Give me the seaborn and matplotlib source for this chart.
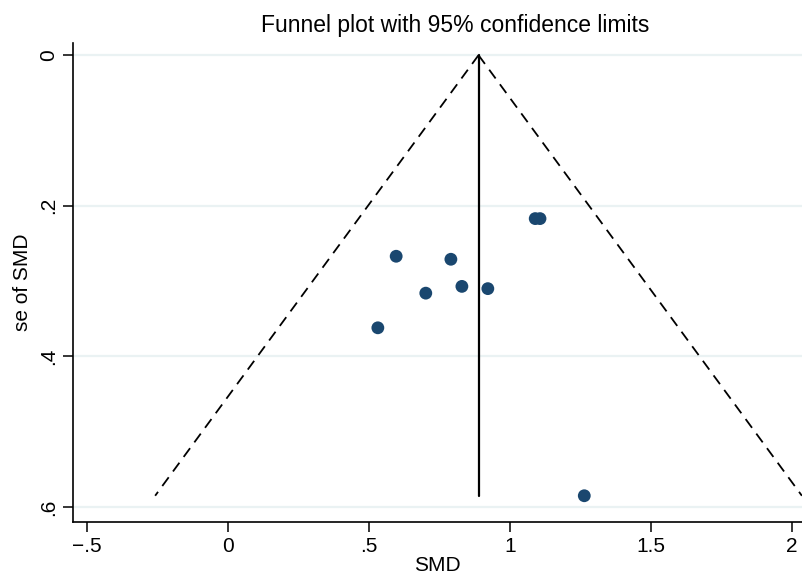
import matplotlib
matplotlib.use("Agg")
import matplotlib.pyplot as plt
import seaborn as sns
import numpy as np
import pandas as pd

# study estimates
smd = [0.596, 0.790, 0.701, 0.829, 0.921, 0.531, 1.089, 1.106, 1.263]
se_smd = [0.267, 0.271, 0.316, 0.307, 0.310, 0.362, 0.217, 0.217, 0.585]
pooled_smd = 0.888
x_ticks = [-0.5, 0, 0.5, 1, 1.5, 2]
x_tick_labels = ["\u2212.5", "0", ".5", "1", "1.5", "2"]
y_ticks = [0, 0.2, 0.4, 0.6]
y_tick_labels = ["0", ".2", ".4", ".6"]

df = pd.DataFrame({"SMD": smd, "se": se_smd})

sns.set_theme(style="white")
plt.rcParams['font.family'] = ['Liberation Sans', 'DejaVu Sans']
plt.rcParams['text.color'] = 'black'
plt.rcParams['axes.labelcolor'] = 'black'
plt.rcParams['xtick.color'] = 'black'
plt.rcParams['ytick.color'] = 'black'

fig = plt.figure(figsize=(8.02, 5.75), dpi=100)
ax = fig.add_axes([0.091, 0.092, 0.909, 0.833])

# grid lines only at y ticks
for yt in y_ticks:
    ax.axhline(yt, color="#eaf2f3", lw=1.6, zorder=0)

# 95% pseudo confidence limits
se_max = max(se_smd)
se_line = np.array([0, se_max])
ax.plot(pooled_smd - 1.96 * se_line, se_line, color="black", lw=1.3,
        dashes=(6, 4), zorder=2)
ax.plot(pooled_smd + 1.96 * se_line, se_line, color="black", lw=1.3,
        dashes=(6, 4), zorder=2)
ax.plot([pooled_smd, pooled_smd], se_line, color="black", lw=1.6, zorder=2)

sns.scatterplot(data=df, x="SMD", y="se", color="#1a476f", s=85,
                edgecolor="none", ax=ax, zorder=3)

ax.set_xlim(-0.55, 2.035)
ax.set_ylim(0.62, -0.016)
ax.set_xticks(x_ticks)
ax.set_xticklabels(x_tick_labels, fontsize=15)
ax.set_yticks(y_ticks)
ax.set_yticklabels(y_tick_labels, fontsize=15, rotation=90, va="center")
ax.tick_params(axis="both", direction="out", length=7, width=1.1,
               color="black", bottom=True, left=True, pad=4)

for side in ["top", "right"]:
    ax.spines[side].set_visible(False)
for side in ["left", "bottom"]:
    ax.spines[side].set_color("black")
    ax.spines[side].set_linewidth(1.2)

ax.set_xlabel("SMD", fontsize=15, labelpad=0)
ax.set_ylabel("se of SMD", fontsize=15, labelpad=5)
fig.text(0.568, 0.955, "Funnel plot with 95% confidence limits",
         ha="center", va="center", fontsize=16.5)

fig.savefig("out.png", dpi=100)
